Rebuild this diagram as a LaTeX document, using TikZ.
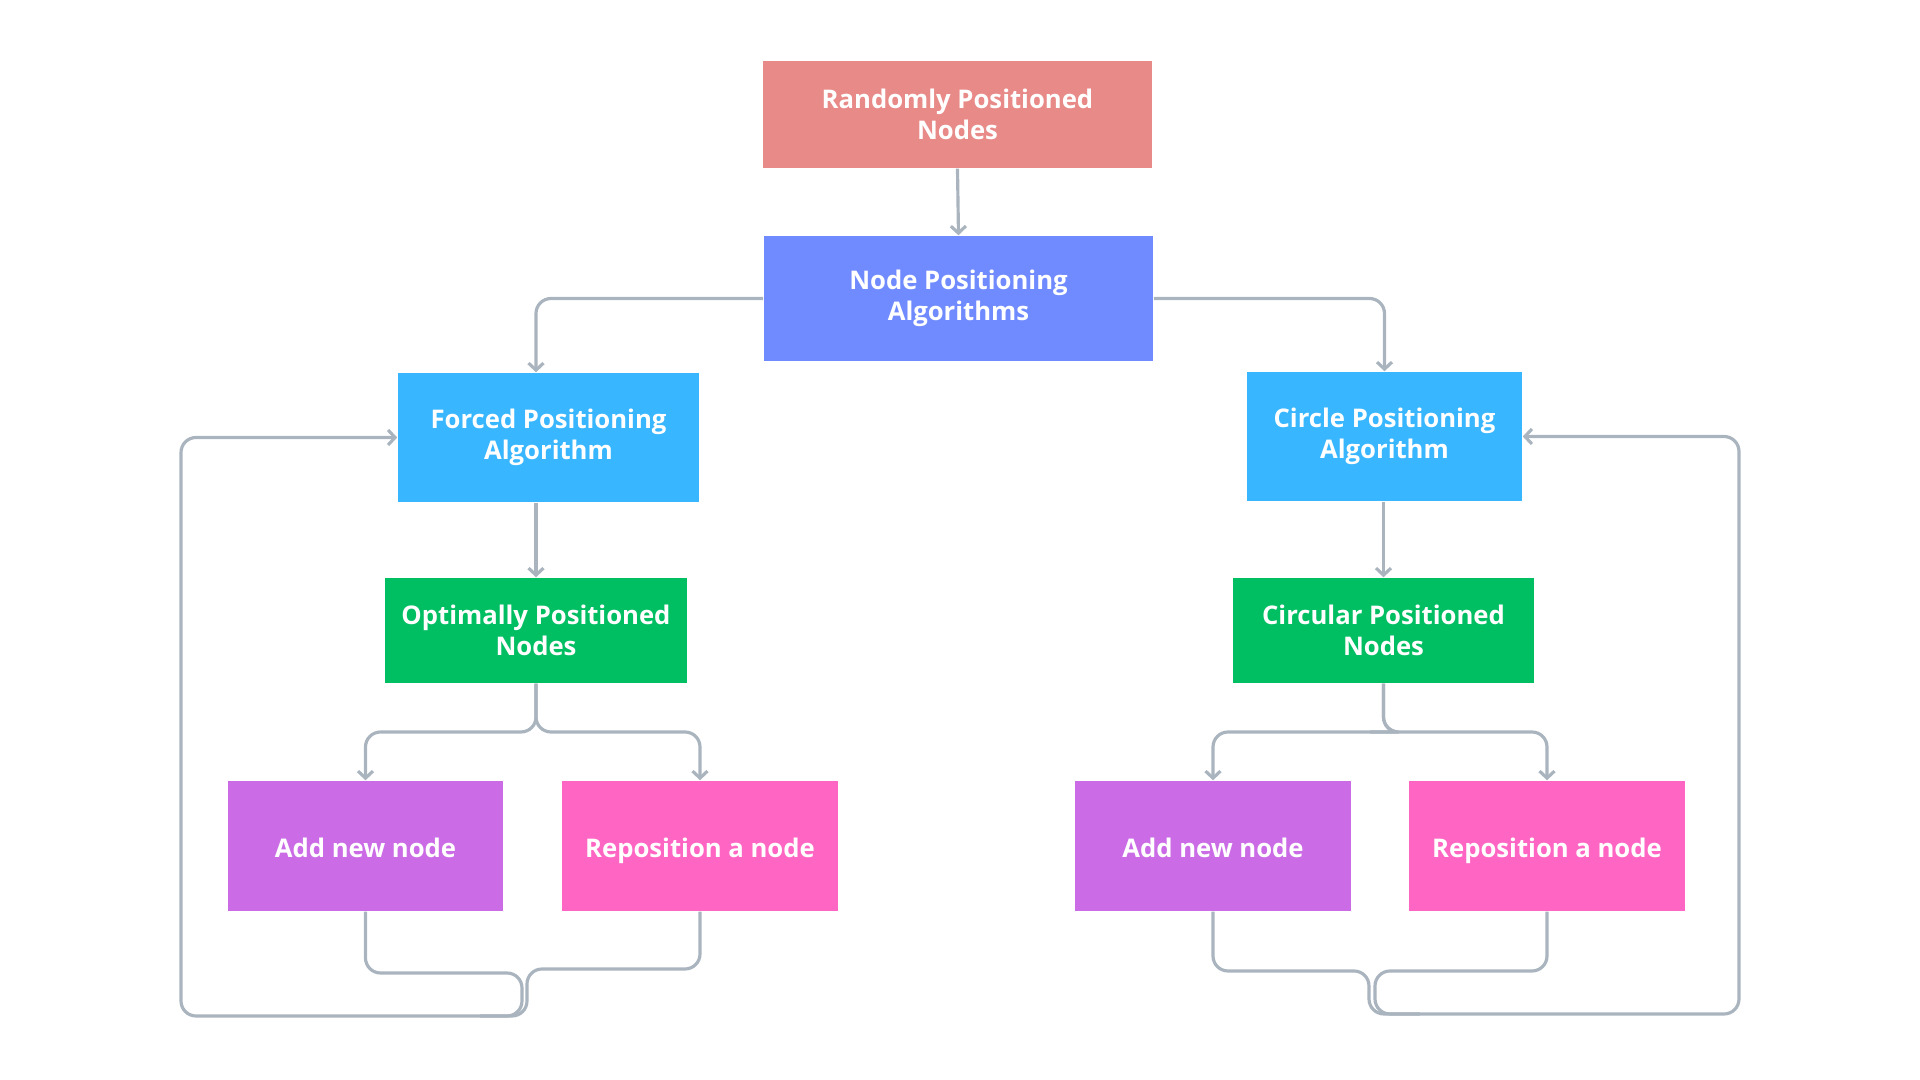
\documentclass[tikz,border=0pt]{standalone}
\usepackage{fontspec}
\setmainfont{Open Sans}
\usetikzlibrary{arrows.meta}
\definecolor{randred}{HTML}{E88A87}
\definecolor{algblue}{HTML}{708BFF}
\definecolor{skyblue}{HTML}{38B6FF}
\definecolor{okgreen}{HTML}{00BF63}
\definecolor{addpurple}{HTML}{CB6CE6}
\definecolor{repopink}{HTML}{FF66C4}
\definecolor{linkgray}{HTML}{A9B4BE}
\begin{document}
\begin{tikzpicture}[x=0.01cm, y=-0.01cm,
    box/.style={rectangle, inner sep=0pt, align=center, text=white,
        font=\bfseries\fontsize{7.3}{8.8}\selectfont},
    single/.style={box, text height=1.55ex, text depth=0.35ex},
    link/.style={draw=linkgray, line width=0.9pt, rounded corners=0.15cm},
    arr/.style={link, -{Straight Barb[length=0.7mm, width=1.5mm]}}]
    \useasboundingbox (0,0) rectangle (1920,1080);

    % Start
    \node[box, fill=randred, minimum width=3.89cm, minimum height=1.07cm] (rand) at (957.5,114.5) {Randomly Positioned\\Nodes};
    \node[box, fill=algblue, minimum width=3.89cm, minimum height=1.25cm] (algs) at (958.5,298.5) {Node Positioning\\Algorithms};

    % Forced branch
    \node[box, fill=skyblue, minimum width=3.01cm, minimum height=1.29cm] (forced) at (548.5,437.5) {Forced Positioning\\Algorithm};
    \node[box, fill=okgreen, minimum width=3.02cm, minimum height=1.05cm] (optimal) at (536,630.5) {Optimally Positioned\\Nodes};
    \node[single, fill=addpurple, minimum width=2.75cm, minimum height=1.30cm] (addL) at (365.5,846) {Add new node};
    \node[single, fill=repopink, minimum width=2.76cm, minimum height=1.30cm] (repoL) at (700,846) {Reposition a node};

    % Circle branch
    \node[box, fill=skyblue, minimum width=2.75cm, minimum height=1.29cm] (circle) at (1384.5,436.5) {Circle Positioning\\Algorithm};
    \node[box, fill=okgreen, minimum width=3.01cm, minimum height=1.05cm] (circular) at (1383.5,630.5) {Circular Positioned\\Nodes};
    \node[single, fill=addpurple, minimum width=2.76cm, minimum height=1.30cm] (addR) at (1213,846) {Add new node};
    \node[single, fill=repopink, minimum width=2.76cm, minimum height=1.30cm] (repoR) at (1547,846) {Reposition a node};

    % Loop corners
    \coordinate (joinL) at (522,973);
    \coordinate (joinLr) at (527,969);
    \coordinate (loopL) at (181,1016);
    \coordinate (mergeL) at (480,1016);
    \coordinate (joinR) at (1369,971);
    \coordinate (joinRr) at (1375,971);
    \coordinate (loopR) at (1739,1014);
    \coordinate (mergeR) at (1420,1014);
    \coordinate (splitL) at (536,732);
    \coordinate (splitR) at (1385,732);

    % Top links
    \draw[arr] (rand.south) -- (algs.north);
    \draw[arr] (algs.west) -| (forced.north -| optimal.north);
    \draw[arr] (algs.east) -| (circle.north);
    \draw[arr] (forced.south -| optimal.north) -- (optimal.north);
    \draw[arr] (circle.south -| circular.north) -- (circular.north);

    % Splits
    \draw[arr] (optimal.south) |- (splitL) -| (addL.north);
    \draw[arr] (optimal.south) |- (splitL) -| (repoL.north);
    \draw[arr] (circular.south) |- (splitR) -| (addR.north);
    \draw[arr] (circular.south) |- (splitR) -| (repoR.north);

    % Feedback loops
    \draw[arr] (addL.south) |- (joinL) |- (loopL) |- (forced.west);
    \draw[link] (repoL.south) |- (joinLr) |- (mergeL);
    \draw[arr] (addR.south) |- (joinR) |- (loopR) |- (circle.east);
    \draw[link] (repoR.south) |- (joinRr) |- (mergeR);
\end{tikzpicture}
\end{document}
